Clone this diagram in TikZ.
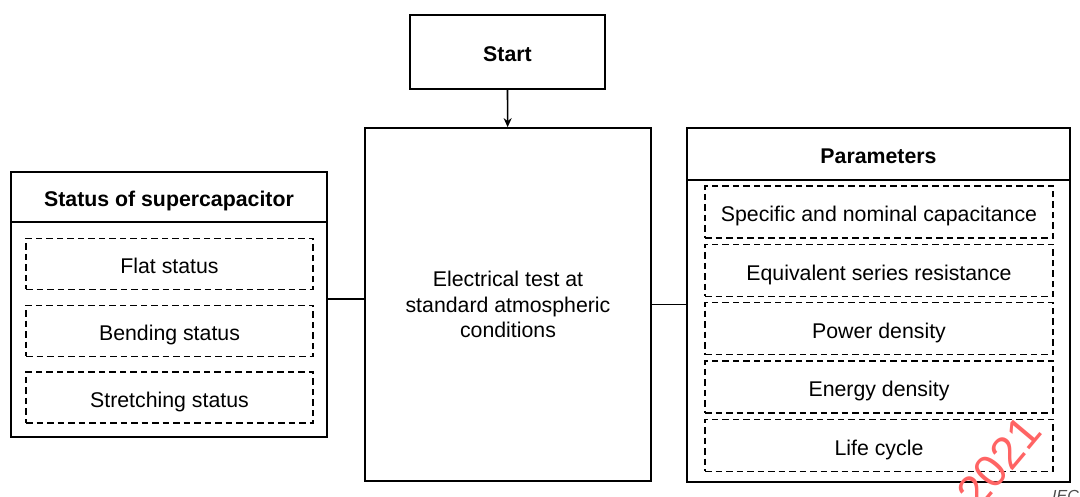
\documentclass[tikz,border=0pt]{standalone}
\usepackage{fontspec}
\setmainfont{Liberation Sans}
\usetikzlibrary{arrows.meta}
\definecolor{stamp}{RGB}{255,100,100}
\tikzset{
  block/.style={draw, line width=1.7pt, inner sep=0pt, font=\fontsize{21.3}{25.5}\selectfont},
  head/.style={block, text height=19pt, text depth=0pt, font=\bfseries\fontsize{21.3}{25}\selectfont},
  item/.style={draw, line width=1.4pt, dash pattern=on 6.5pt off 4pt, inner sep=0pt, text height=20pt, text depth=0pt, font=\fontsize{21.3}{25}\selectfont},
}
\begin{document}
\begin{tikzpicture}[x=1pt,y=-1pt]

        \useasboundingbox (0,0) rectangle (1080,497);

        \node (start) [head, text height=20pt, minimum width=195pt, minimum height=74pt] at (507.5,52) {Start};
        \node (test) [block, minimum width=286pt, minimum height=353pt, align=center] at (508,304.5) {Electrical test at\\standard atmospheric\\conditions};

        \node (status) [block, minimum width=316pt, minimum height=265pt] at (169,304.5) {};
        \node (statushead) [head, minimum width=316pt, minimum height=50pt, anchor=north] at (status.north) {Status of supercapacitor};
        \foreach \txt [count=\i] in {Flat status, Bending status, Stretching status}
            \node (state\i) [item, minimum width=287pt, minimum height=51pt] at (169.5, 264 + 66.75*\i - 66.75) {\txt};

        \node (params) [block, minimum width=383pt, minimum height=354pt] at (878.5,305) {};
        \node (paramshead) [head, minimum width=383pt, minimum height=52pt, anchor=north] at (params.north) {Parameters};
        \foreach \txt [count=\i] in {Specific and nominal capacitance, Equivalent series resistance, Power density, Energy density, Life cycle}
            \node (param\i) [item, minimum width=348pt, minimum height=52pt] at (879, 212 + 58.3*\i - 58.3) {\txt};

        \draw [line width=1.7pt, -{Stealth[length=9pt,width=8pt]}] (start) -- (test);
        \draw [line width=1.7pt] ([yshift=5.5pt]status.east) -- ([yshift=5.5pt]status.east -| test.west);
        \draw [line width=1.7pt] (test.east) -- (test.east -| params.west);

        \node (year) [text=stamp, rotate=50, font=\fontsize{46}{46}\selectfont] at (999,462) {2021};
        \node (iec) [text=black!70, anchor=base west, inner sep=0pt, font=\itshape\fontsize{16}{16}\selectfont] at (1052,501) {IEC};

\end{tikzpicture}
\end{document}
